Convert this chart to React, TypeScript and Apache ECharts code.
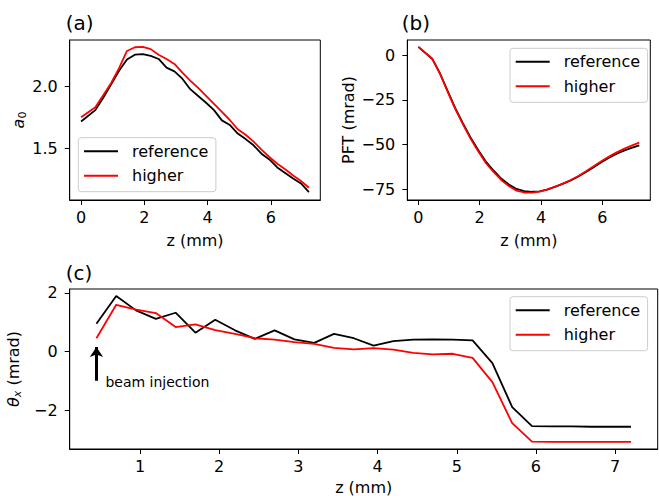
import React, { useEffect, useRef } from "react";
import * as echarts from "echarts";

const FONT = "DejaVu Sans";

// z positions (mm)
const zA = [0, 0.45, 0.7, 0.95, 1.2, 1.45, 1.7, 1.95, 2.2, 2.45, 2.7, 2.95, 3.2, 3.45, 3.7, 3.95, 4.2, 4.45, 4.7, 4.95, 5.2, 5.45, 5.7, 5.95, 6.2, 6.45, 6.7, 6.95, 7.2];
const zC = [0.45, 0.7, 0.95, 1.2, 1.45, 1.7, 1.95, 2.2, 2.45, 2.7, 2.95, 3.2, 3.45, 3.7, 3.95, 4.2, 4.45, 4.7, 4.95, 5.2, 5.45, 5.7, 5.95, 6.2, 6.45, 6.7, 6.95, 7.2];

// (a) a0
const a0Ref = [1.718, 1.81, 1.91, 2.02, 2.13, 2.22, 2.26, 2.265, 2.25, 2.225, 2.155, 2.125, 2.065, 1.98, 1.925, 1.87, 1.81, 1.727, 1.69, 1.62, 1.575, 1.525, 1.457, 1.41, 1.345, 1.3, 1.255, 1.215, 1.145];
const a0High = [1.753, 1.834, 1.93, 2.03, 2.15, 2.29, 2.32, 2.323, 2.305, 2.26, 2.225, 2.185, 2.115, 2.05, 1.99, 1.925, 1.86, 1.795, 1.73, 1.655, 1.61, 1.555, 1.49, 1.43, 1.375, 1.33, 1.28, 1.235, 1.18];

// (b) PFT (mrad)
const pftRef = [4.6, -2.0, -10, -19.8, -29.5, -38, -46, -53, -59.5, -64.5, -69, -72.3, -74.8, -76, -76.4, -76.2, -75.2, -73.7, -72, -70.2, -68, -65.5, -62.8, -60, -57.5, -55.3, -53.4, -51.9, -50.5];
const pftHigh = [4.6, -2.0, -10.2, -20.3, -30, -38.6, -46.7, -53.8, -60.3, -65.3, -69.8, -73.2, -75.8, -76.8, -76.9, -76.3, -75.1, -73.6, -71.9, -70, -67.7, -65.1, -62.3, -59.5, -56.9, -54.5, -52.4, -50.6, -48.9];

// (c) theta_x (mrad)
const thetaRef = [0.945, 1.89, 1.4, 1.11, 1.32, 0.64, 1.08, 0.72, 0.43, 0.72, 0.41, 0.29, 0.6, 0.45, 0.2, 0.35, 0.4, 0.41, 0.4, 0.375, -0.4, -1.9, -2.55, -2.56, -2.56, -2.57, -2.57, -2.57];
const thetaHigh = [0.45, 1.59, 1.43, 1.31, 0.83, 0.92, 0.73, 0.6, 0.45, 0.4, 0.32, 0.26, 0.12, 0.07, 0.11, 0.06, -0.05, -0.1, -0.08, -0.22, -1.05, -2.45, -3.08, -3.09, -3.09, -3.09, -3.09, -3.09];

// tick labels
const ticksXab = [0, 2, 4, 6];
const ticksXc = [1, 2, 3, 4, 5, 6, 7];
const ticksYa = [1.5, 2.0];
const ticksYb = [-75, -50, -25, 0];
const ticksYc = [-2, 0, 2];

const legendNames = ["reference", "higher"];
const injectionZ = 0.45;
const arrowFrom = -1.0;
const arrowTo = 0.15;
const injectionLabel = "beam injection";

const pairs = (xs: number[], ys: number[]) => xs.map((x, i) => [x, ys[i]]);
const minus = (s: string) => s.replace("-", "\u2212");

const txt = { color: "#000", fontFamily: FONT, fontSize: 16 };

function xAxis(gridIndex: number, min: number, max: number, ticks: number[], nameGap: number) {
  return {
    type: "value",
    gridIndex,
    min,
    max,
    name: "z (mm)",
    nameLocation: "middle",
    nameGap,
    nameTextStyle: { ...txt },
    axisLine: { show: true, onZero: false, lineStyle: { color: "#000", width: 1 } },
    axisTick: { show: true, inside: false, length: 5, customValues: ticks, lineStyle: { color: "#000", width: 1 } },
    axisLabel: { ...txt, margin: 9, customValues: ticks, formatter: (v: number) => minus(String(v)) },
    splitLine: { show: false },
  };
}

function yAxis(gridIndex: number, min: number, max: number, ticks: number[], name: string, nameGap: number, fmt: (v: number) => string) {
  return {
    type: "value",
    gridIndex,
    min,
    max,
    name,
    nameLocation: "middle",
    nameRotate: 90,
    nameGap,
    nameTextStyle: {
      ...txt,
      rich: {
        i: { ...txt, fontStyle: "italic", lineHeight: 16 },
        s: { ...txt, fontSize: 11, lineHeight: 11, padding: [9, 0, 0, 0] },
        si: { ...txt, fontSize: 11, lineHeight: 11, fontStyle: "italic", padding: [9, 0, 0, 0] },
        n: { ...txt, lineHeight: 16 },
      },
    },
    axisLine: { show: true, onZero: false, lineStyle: { color: "#000", width: 1 } },
    axisTick: { show: true, inside: false, length: 5, customValues: ticks, lineStyle: { color: "#000", width: 1 } },
    axisLabel: { ...txt, margin: 12, customValues: ticks, formatter: fmt },
    splitLine: { show: false },
  };
}

function line(name: string, color: string, xi: number, data: number[][], extra: any = {}) {
  return {
    type: "line",
    name,
    xAxisIndex: xi,
    yAxisIndex: xi,
    data,
    showSymbol: false,
    symbol: "none",
    lineStyle: { color, width: 1.8 },
    itemStyle: { color },
    emphasis: { disabled: true },
    ...extra,
  };
}

function legend(left: number, top: number) {
  return {
    data: legendNames,
    orient: "vertical",
    left,
    top,
    icon: "rect",
    itemWidth: 34,
    itemHeight: 2,
    itemGap: 6.5,
    padding: [4.5, 7.5, 7, 5.7],
    backgroundColor: "rgba(255,255,255,0.8)",
    borderColor: "#cccccc",
    borderWidth: 1,
    borderRadius: 3,
    selectedMode: false,
    textStyle: { ...txt, lineHeight: 18, padding: [0, 0, 0, 9] },
  };
}

function title(text: string, left: number, top: number) {
  return {
    text,
    left,
    top,
    padding: 0,
    textStyle: { color: "#000", fontFamily: FONT, fontSize: 20, fontWeight: "normal" },
  };
}

const gridBase = { show: true, borderColor: "#000", borderWidth: 1, backgroundColor: "transparent", containLabel: false, outerBoundsMode: "none" };

const option: any = {
  animation: false,
  backgroundColor: "#ffffff",
  title: [title("(a)", 65.7, 12.5), title("(b)", 401.7, 12.5), title("(c)", 65.7, 262.5)],
  grid: [
    { ...gridBase, left: 69.7, top: 40, width: 250.6, height: 160 },
    { ...gridBase, left: 407.3, top: 40, width: 243, height: 160 },
    { ...gridBase, left: 69.7, top: 289, width: 588, height: 160 },
  ],
  xAxis: [
    xAxis(0, -0.36, 7.56, ticksXab, 32),
    xAxis(1, -0.36, 7.56, ticksXab, 32),
    xAxis(2, 0.1125, 7.5375, ticksXc, 30),
  ],
  yAxis: [
    yAxis(0, 1.081, 2.379, ticksYa, "{i|a}{s|0}", 40, (v: number) => v.toFixed(1)),
    yAxis(1, -81, 8.45, ticksYb, "PFT (mrad)", 51, (v: number) => minus(String(v))),
    yAxis(2, -3.33, 2.13, ticksYc, "{i|\u03b8}{si|x}{n| (mrad)}", 40, (v: number) => minus(String(v))),
  ],
  legend: [legend(78.3, 137.7), legend(510, 48.3), legend(510, 296.7)],
  series: [
    line("reference", "#000000", 0, pairs(zA, a0Ref)),
    line("higher", "#ff0000", 0, pairs(zA, a0High)),
    line("reference", "#000000", 1, pairs(zA, pftRef)),
    line("higher", "#ff0000", 1, pairs(zA, pftHigh)),
    line("reference", "#000000", 2, pairs(zC, thetaRef), {
      markLine: {
        silent: true,
        animation: false,
        symbol: ["none", "arrow"],
        symbolSize: [10, 10],
        lineStyle: { color: "#000", width: 3, type: "solid" },
        label: { show: false },
        emphasis: { disabled: true },
        data: [[{ coord: [injectionZ, arrowFrom] }, { coord: [injectionZ, arrowTo] }]],
      },
      markPoint: {
        silent: true,
        animation: false,
        symbol: "circle",
        symbolSize: 0,
        itemStyle: { color: "transparent" },
        label: { show: true, position: "right", distance: 9, formatter: injectionLabel, color: "#000", fontFamily: FONT, fontSize: 14 },
        data: [{ coord: [injectionZ, arrowFrom - 0.05] }],
      },
    }),
    line("higher", "#ff0000", 2, pairs(zC, thetaHigh)),
  ],
};

export default function App() {
  const ref = useRef<HTMLDivElement>(null);
  useEffect(() => {
    const chart = echarts.init(ref.current as HTMLDivElement, null, { renderer: "svg" });
    chart.setOption(option);
    return () => chart.dispose();
  }, []);
  return (
    <div
      ref={ref}
      style={{ position: "fixed", left: 0, top: 0, width: 659, height: 496, background: "#fff" }}
    />
  );
}
